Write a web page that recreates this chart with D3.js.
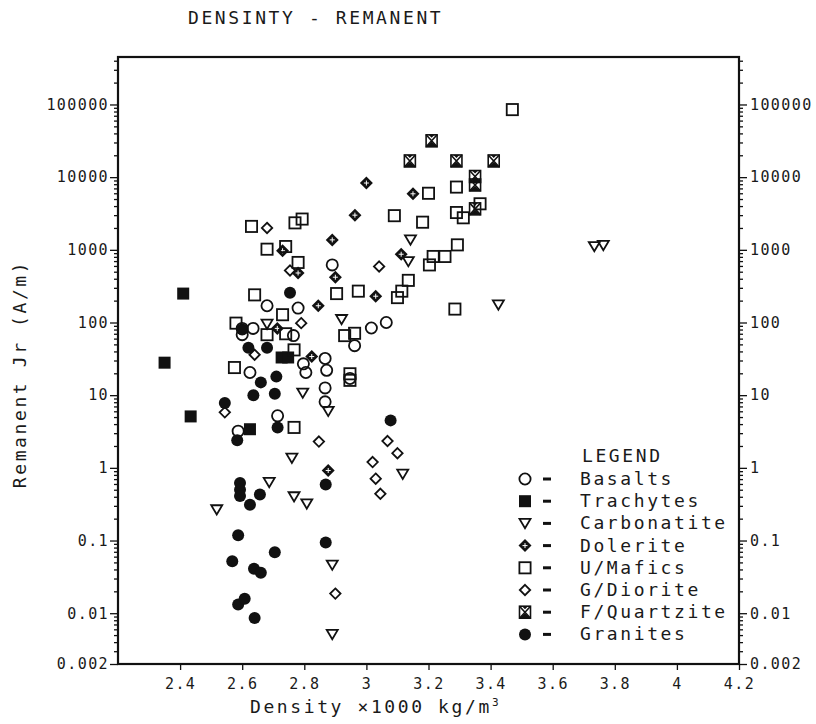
<!DOCTYPE html>
<html>
<head>
<meta charset="utf-8">
<script src="https://cdn.jsdelivr.net/npm/d3@7"></script>
<style>
  body { margin: 0; background: #fff; }
  text { font-family: "DejaVu Sans Mono", monospace; fill: #1a1a1a; }
</style>
</head>
<body>
<div id="chart"></div>
<script>
// density (x1000 kg/m3), remanent Jr (A/m)
const basalts = [[2.89, 620], [2.68, 170], [2.78, 158], [2.60, 83], [2.635, 83], [2.60, 68], [2.765, 66],
  [2.867, 32], [2.625, 20.5], [2.797, 27], [2.805, 20.5], [2.872, 22], [3.064, 100], [3.016, 84],
  [2.962, 48], [2.867, 12.6], [2.867, 8.1], [2.714, 5.2], [2.587, 3.2], [2.947, 17]]
const trachytes = [[2.41, 250], [2.35, 28], [2.434, 5.1], [2.625, 3.4], [2.727, 33], [2.748, 33]]
const carbonatites = [[3.142, 1370], [3.135, 690], [3.425, 175], [2.92, 110], [2.68, 95], [2.795, 10.7],
  [2.877, 6], [2.76, 1.36], [2.687, 0.63], [2.767, 0.40], [2.808, 0.32], [2.518, 0.265], [3.117, 0.82],
  [2.89, 0.046], [2.89, 0.0051], [3.734, 1110], [3.763, 1150]]
const dolerites = [[3.0, 8300], [3.15, 5900], [2.963, 3000], [2.89, 1370], [2.73, 970], [2.78, 480],
  [2.90, 420], [2.845, 170], [2.713, 83], [2.824, 34], [3.112, 870], [3.03, 230], [2.877, 0.92]]
const mafics = [[3.47, 85000], [3.20, 6000], [3.29, 7300], [3.366, 4300], [3.29, 3260], [3.312, 2760],
  [3.09, 2950], [3.181, 2400], [2.63, 2100], [2.77, 2350], [2.793, 2650], [2.68, 1020], [2.74, 1110],
  [2.78, 670], [2.64, 240], [2.904, 250], [2.73, 128], [2.58, 98], [2.68, 68], [2.74, 70], [2.767, 42],
  [2.575, 24], [3.135, 380], [3.114, 270], [3.10, 220], [2.974, 270], [3.285, 153], [2.962, 71],
  [2.93, 66], [2.947, 19.7], [2.947, 16], [3.215, 810], [3.253, 810], [3.293, 1170], [3.203, 620],
  [2.767, 3.6]]
const diorites = [[2.68, 2000], [2.754, 520], [2.79, 98], [2.64, 36], [2.544, 5.8], [2.847, 2.3],
  [3.068, 2.34], [3.10, 1.59], [3.02, 1.2], [3.03, 0.71], [3.045, 0.44], [2.9, 0.0186], [3.041, 590]]
const quartzites = [[3.21, 31600], [3.14, 16700], [3.29, 16700], [3.41, 16700], [3.35, 10200],
  [3.35, 7800], [3.35, 3660]]
const granites = [[2.754, 257], [2.60, 80], [2.62, 45], [2.68, 45], [2.71, 18], [2.66, 15], [2.636, 10],
  [2.705, 10.5], [2.544, 7.8], [2.714, 3.6], [2.584, 2.4], [3.078, 4.5], [2.869, 0.59], [2.593, 0.62],
  [2.593, 0.50], [2.593, 0.41], [2.657, 0.43], [2.625, 0.31], [2.587, 0.118], [2.869, 0.094],
  [2.568, 0.052], [2.705, 0.069], [2.638, 0.041], [2.66, 0.036], [2.587, 0.0132], [2.608, 0.0158],
  [2.64, 0.0086]]

const legendNames = ['Basalts', 'Trachytes', 'Carbonatite', 'Dolerite', 'U/Mafics', 'G/Diorite', 'F/Quartzite', 'Granites']
const xTicks = [2.4, 2.6, 2.8, 3, 3.2, 3.4, 3.6, 3.8, 4, 4.2]
const yTicks = [0.002, 0.01, 0.1, 1, 10, 100, 1000, 10000, 100000]
const yTickLabels = ['0.002', '0.01', '0.1', '1', '10', '100', '1000', '10000', '100000']

const series = [
  {type: 'circle', data: basalts},
  {type: 'fsquare', data: trachytes},
  {type: 'triangle', data: carbonatites},
  {type: 'dolerite', data: dolerites},
  {type: 'square', data: mafics},
  {type: 'diamond', data: diorites},
  {type: 'quartz', data: quartzites},
  {type: 'fcircle', data: granites}
]

const W = 816, H = 724
const pLeft = 118, pRight = 739, pTop = 57, pBottom = 664

const x = d3.scaleLinear().domain([2.2, 4.2]).range([pLeft, pRight])
const y = d3.scaleLog().domain([0.002, 450000]).range([pBottom, pTop])

// minor log ticks 2..9 per decade
const minor = []
for (let e = -3; e <= 5; e++) {
  for (let k = 2; k <= 9; k++) {
    const v = k * Math.pow(10, e)
    if (v > 0.002 && v < 450000) minor.push(v)
  }
}

const svg = d3.select('#chart')
  .append('svg')
  .attr('width', W)
  .attr('height', H)

svg.append('rect').attr('width', W).attr('height', H).attr('fill', '#fff')

svg.append('text')
  .attr('x', 188).attr('y', 24)
  .style('font-size', '18px')
  .style('letter-spacing', '2.6px')
  .text('DENSINTY - REMANENT')

function styleAxis(g) {
  g.select('.domain').remove()
  g.selectAll('line').attr('stroke', '#111').attr('stroke-width', 1.3)
  g.selectAll('text').style('font-size', '15px').style('letter-spacing', '1.4px').attr('fill', '#1a1a1a')
}

// x axis
svg.append('g')
  .attr('transform', `translate(0,${pBottom})`)
  .call(d3.axisBottom(x).tickValues(xTicks).tickSize(6).tickPadding(8).tickFormat(d => String(d)))
  .call(styleAxis)

// left axis
svg.append('g')
  .attr('transform', `translate(${pLeft},0)`)
  .call(d3.axisLeft(y).tickValues(minor).tickSize(4).tickFormat(''))
  .call(styleAxis)
svg.append('g')
  .attr('transform', `translate(${pLeft},0)`)
  .call(d3.axisLeft(y).tickValues(yTicks).tickSize(8).tickPadding(1).tickFormat((d, i) => yTickLabels[i]))
  .call(styleAxis)

// right axis
svg.append('g')
  .attr('transform', `translate(${pRight},0)`)
  .call(d3.axisRight(y).tickValues(minor).tickSize(4).tickFormat(''))
  .call(styleAxis)
svg.append('g')
  .attr('transform', `translate(${pRight},0)`)
  .call(d3.axisRight(y).tickValues(yTicks).tickSize(8).tickPadding(3).tickFormat((d, i) => yTickLabels[i]))
  .call(styleAxis)

// frame
svg.append('rect')
  .attr('x', pLeft).attr('y', pTop)
  .attr('width', pRight - pLeft).attr('height', pBottom - pTop)
  .attr('fill', 'none').attr('stroke', '#111').attr('stroke-width', 2.2)

// axis titles
svg.append('text')
  .attr('transform', `translate(26,${374}) rotate(-90)`)
  .attr('text-anchor', 'middle')
  .style('font-size', '18px')
  .style('letter-spacing', '2.6px')
  .text('Remanent Jr (A/m)')

const xt = svg.append('text')
  .attr('x', 250).attr('y', 713)
  .style('font-size', '18px')
  .style('letter-spacing', '2.6px')
xt.append('tspan').text('Density \u00d71000 kg/m')
xt.append('tspan').attr('dy', -7).style('font-size', '11px').style('letter-spacing', '0px').text('3')

function marker(g, type) {
  const sw = 1.8
  if (type === 'circle') {
    g.append('circle').attr('r', 5.6).attr('fill', 'none').attr('stroke', '#111').attr('stroke-width', sw)
  } else if (type === 'fcircle') {
    g.append('circle').attr('r', 6).attr('fill', '#111')
  } else if (type === 'square') {
    g.append('rect').attr('x', -5.6).attr('y', -5.6).attr('width', 11.2).attr('height', 11.2)
      .attr('fill', 'none').attr('stroke', '#111').attr('stroke-width', sw)
  } else if (type === 'fsquare') {
    g.append('rect').attr('x', -6).attr('y', -6).attr('width', 12).attr('height', 12).attr('fill', '#111')
  } else if (type === 'triangle') {
    g.append('path').attr('d', 'M-5.5,-4.5L5.5,-4.5L0,4.8Z')
      .attr('fill', 'none').attr('stroke', '#111').attr('stroke-width', sw).attr('stroke-linejoin', 'miter')
  } else if (type === 'diamond') {
    g.append('path').attr('d', 'M0,-5.2L5.2,0L0,5.2L-5.2,0Z')
      .attr('fill', 'none').attr('stroke', '#111').attr('stroke-width', sw)
  } else if (type === 'dolerite') {
    g.append('path').attr('d', 'M0,-6.5L6.5,0L0,6.5L-6.5,0Z').attr('fill', '#111')
    g.append('path').attr('d', 'M-2.5,0L2.5,0M0,-2.5L0,2.5').attr('stroke', '#fff').attr('stroke-width', 1)
  } else if (type === 'quartz') {
    g.append('rect').attr('x', -5.5).attr('y', -6).attr('width', 11).attr('height', 12)
      .attr('fill', 'none').attr('stroke', '#111').attr('stroke-width', 1.6)
    g.append('path').attr('d', 'M-5.5,-6L5.5,6M5.5,-6L-5.5,6')
      .attr('stroke', '#111').attr('stroke-width', 1.6)
    g.append('path').attr('d', 'M-5.5,6L5.5,6L0,1Z M-3,-6L3,-6L0,-3Z').attr('fill', '#111')
  }
}

series.forEach(s => {
  svg.append('g').selectAll('g')
    .data(s.data)
    .enter()
    .append('g')
    .attr('transform', d => `translate(${x(d[0])},${y(d[1])})`)
    .each(function() { marker(d3.select(this), s.type) })
})

// legend
const lg = svg.append('g')
lg.append('text').attr('x', 582).attr('y', 462)
  .style('font-size', '18px').style('letter-spacing', '2.6px').text('LEGEND')
series.forEach((s, i) => {
  const ly = 479 + i * 22.2
  marker(lg.append('g').attr('transform', `translate(525,${ly})`), s.type)
  lg.append('line').attr('x1', 543).attr('x2', 551).attr('y1', ly).attr('y2', ly)
    .attr('stroke', '#111').attr('stroke-width', 3)
  lg.append('text').attr('x', 580).attr('y', ly + 6)
    .style('font-size', '18px').style('letter-spacing', '2.6px')
    .text(legendNames[i])
})
</script>
</body>
</html>
